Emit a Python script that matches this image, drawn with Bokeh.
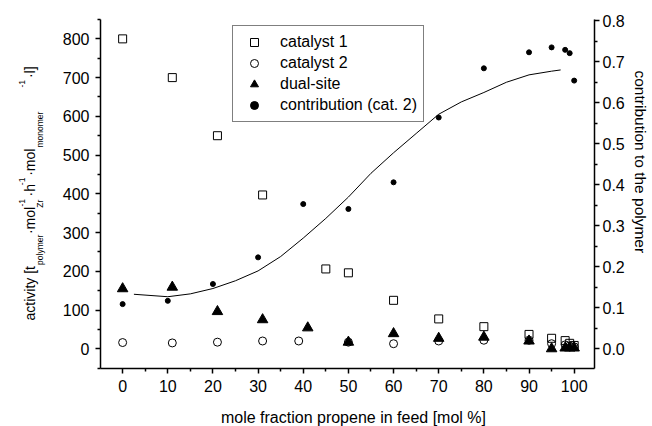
import math
from bokeh.plotting import figure
from bokeh.layouts import row, column
from bokeh.models import (Range1d, LinearAxis, FixedTicker, PrintfTickFormatter,
                          Legend, LegendItem, ColumnDataSource)
from bokeh.core.properties import value, field
from bokeh.embed import file_html
from bokeh.resources import INLINE

# ---------------- data ----------------
cat1_x = [0, 11, 21, 31, 45, 50, 60, 70, 80, 90, 95, 98, 99, 100]
cat1_y = [800, 700, 550, 397, 206, 196, 125, 77, 57, 37, 27, 21, 14, 8.5]

cat2_x = [0, 11, 21, 31, 39, 50, 60, 70, 80, 90, 95, 98, 99, 100]
cat2_y = [16, 15, 17, 20, 20, 17, 13, 20, 22, 22, 13, 10, 7, 5]

dual_x = [0, 11, 21, 31, 41, 50, 60, 70, 80, 90, 95, 98, 99, 100]
dual_y = [155, 159, 96, 75, 54, 17, 39, 27, 30, 20, 0, 2, 2, 2]

contrib_x = [0, 10, 20, 30, 40, 50, 60, 70, 80, 90, 95, 98, 99, 100]
contrib_y = [0.109, 0.117, 0.158, 0.223, 0.353, 0.341, 0.406, 0.564, 0.684,
             0.723, 0.735, 0.729, 0.721, 0.654]

fit_x = [2.5, 10, 15, 20, 25, 30, 35, 40, 45, 50, 55, 60, 65, 70, 75, 80, 85, 90, 95, 97]
fit_y = [0.133, 0.127, 0.134, 0.147, 0.166, 0.19, 0.225, 0.27, 0.318, 0.37, 0.428,
         0.478, 0.525, 0.572, 0.602, 0.625, 0.65, 0.668, 0.677, 0.68]

x_ticks = [0, 10, 20, 30, 40, 50, 60, 70, 80, 90, 100]
x_minor = [5, 15, 25, 35, 45, 55, 65, 75, 85, 95]
left_ticks = [0, 100, 200, 300, 400, 500, 600, 700, 800]
left_minor = [-50, 50, 150, 250, 350, 450, 550, 650, 750, 850]
right_ticks = [0.0, 0.1, 0.2, 0.3, 0.4, 0.5, 0.6, 0.7, 0.8]
right_minor = [0.05, 0.15, 0.25, 0.35, 0.45, 0.55, 0.65, 0.75]

legend_labels = ["catalyst 1", "catalyst 2", "dual-site", "contribution (cat. 2)"]
x_label = "mole fraction propene in feed [mol %]"
right_label = "contribution to the polymer"
# left axis title pieces: (text, kind)
left_label = [("activity [t", "main"), ("polymer", "sub"), ("\u00b7mol", "main"),
              ("Zr", "sub"), ("-1", "sup"), ("\u00b7h", "main"), ("-1", "sup"),
              ("\u00b7mol", "main"), ("monomer", "sub"), ("-1", "sup"),
              ("\u00b7l]", "main")]

# ---------------- layout / style ----------------
FONT = "Liberation Sans"
W, H = 652, 426
LEFT_W = 50          # panel holding the left axis title
RIGHT_W = 22         # panel holding the right axis title
BOTTOM_H = 28        # panel holding the x axis title
MAIN_W = W - LEFT_W - RIGHT_W
MAIN_H = H - BOTTOM_H
FRAME_L, FRAME_R, FRAME_T, FRAME_B = 100, 594, 19, 368


def blank(width, height):
    f = figure(width=width, height=height, output_backend="svg",
               toolbar_location=None, title=None,
               x_range=Range1d(0, width), y_range=Range1d(0, height),
               x_axis_location=None, y_axis_location=None,
               min_border=0, min_border_left=0, min_border_right=0,
               min_border_top=0, min_border_bottom=0)
    f.outline_line_color = None
    f.background_fill_color = "white"
    f.border_fill_color = "white"
    f.grid.visible = False
    return f


p = figure(width=MAIN_W, height=MAIN_H, output_backend="svg", toolbar_location=None,
           title=None, x_range=Range1d(-4.9, 104.5), y_range=Range1d(-51, 850),
           x_axis_location=None, y_axis_location=None,
           min_border_left=FRAME_L - LEFT_W,
           min_border_right=LEFT_W + MAIN_W - FRAME_R,
           min_border_top=FRAME_T, min_border_bottom=MAIN_H - FRAME_B)
p.extra_y_ranges = {"right": Range1d(-0.048, 0.803)}
p.outline_line_color = None
p.background_fill_color = "white"
p.border_fill_color = "white"
p.grid.visible = False


def style_axis(ax, standoff):
    ax.axis_line_color = "black"
    ax.axis_line_width = 1.5
    ax.major_tick_line_color = "black"
    ax.minor_tick_line_color = "black"
    ax.major_tick_line_width = 1.5
    ax.minor_tick_line_width = 1.5
    ax.major_tick_in = 0
    ax.major_tick_out = 5
    ax.minor_tick_in = 0
    ax.minor_tick_out = 3
    ax.major_label_text_font = FONT
    ax.major_label_text_font_size = "16px"
    ax.major_label_text_color = "black"
    ax.major_label_standoff = standoff


xaxis = LinearAxis(ticker=FixedTicker(ticks=x_ticks, minor_ticks=x_minor))
style_axis(xaxis, 6)
p.add_layout(xaxis, "below")

yaxis = LinearAxis(ticker=FixedTicker(ticks=left_ticks, minor_ticks=left_minor))
style_axis(yaxis, 6)
p.add_layout(yaxis, "left")

raxis = LinearAxis(y_range_name="right",
                   ticker=FixedTicker(ticks=right_ticks, minor_ticks=right_minor),
                   formatter=PrintfTickFormatter(format="%.1f"))
style_axis(raxis, 3)
p.add_layout(raxis, "right")

# ---------------- glyphs ----------------
p.line(fit_x, fit_y, y_range_name="right", line_color="black", line_width=1)
r1 = p.scatter(cat1_x, cat1_y, marker="square", size=8, fill_color=None,
               line_color="black", line_width=1)
r2 = p.scatter(cat2_x, cat2_y, marker="circle", size=8, fill_color=None,
               line_color="black", line_width=1)
r3 = p.scatter(dual_x, dual_y, marker="triangle", size=10.5, fill_color="black",
               line_color="black")
r4 = p.scatter(contrib_x, contrib_y, y_range_name="right", marker="circle", size=5,
               fill_color="black", line_color="black")

legend = Legend(items=[LegendItem(label=t, renderers=[r]) for t, r in
                       zip(legend_labels, [r1, r2, r3, r4])],
                location=(132, 246), border_line_color="black", border_line_width=1.2,
                background_fill_color="white", background_fill_alpha=1.0,
                padding=6, spacing=1, margin=0, glyph_width=30, glyph_height=20,
                label_height=20, label_standoff=11, label_text_font=FONT,
                label_text_font_size="16px", label_text_color="black")
p.add_layout(legend)

# ---------------- left axis title (with sub/superscripts) ----------------
lf = blank(LEFT_W, H)
piece_start = [320.0, 264.4, 233.6, 207.3, 206.0, 196.0, 184.7, 175.3, 147.1, 87.0, 77.6]
kind_base = {"main": 29.5, "sub": 39.5, "sup": 21.0}
kind_size = {"main": "14px", "sub": "8.5px", "sup": "8.5px"}
src = ColumnDataSource(dict(
    x=[kind_base[k] for _, k in left_label],
    y=[H - s for s in piece_start],
    text=[t for t, _ in left_label],
    size=[kind_size[k] for _, k in left_label],
))
lf.text(x="x", y="y", text="text", source=src, angle=math.pi / 2,
        text_align="left", text_baseline="alphabetic", text_font=value(FONT),
        text_font_size=field("size"), text_color="black")

# ---------------- right axis title ----------------
rf = blank(RIGHT_W, H)
rf.text(x=[640 - (LEFT_W + MAIN_W)], y=[H - 70], text=[right_label],
        angle=-math.pi / 2, text_align="left", text_baseline="alphabetic",
        text_font=value(FONT), text_font_size="15.5px", text_color="black")

# ---------------- x axis title ----------------
bf = blank(MAIN_W, BOTTOM_H)
bf.text(x=[347 - LEFT_W], y=[H - 417], text=[x_label], text_align="center",
        text_baseline="alphabetic", text_font=value(FONT), text_font_size="16px",
        text_color="black")

layout = row(lf, column(p, bf, spacing=0), rf, spacing=0)

open("out.html", "w").write(file_html(layout, INLINE))
